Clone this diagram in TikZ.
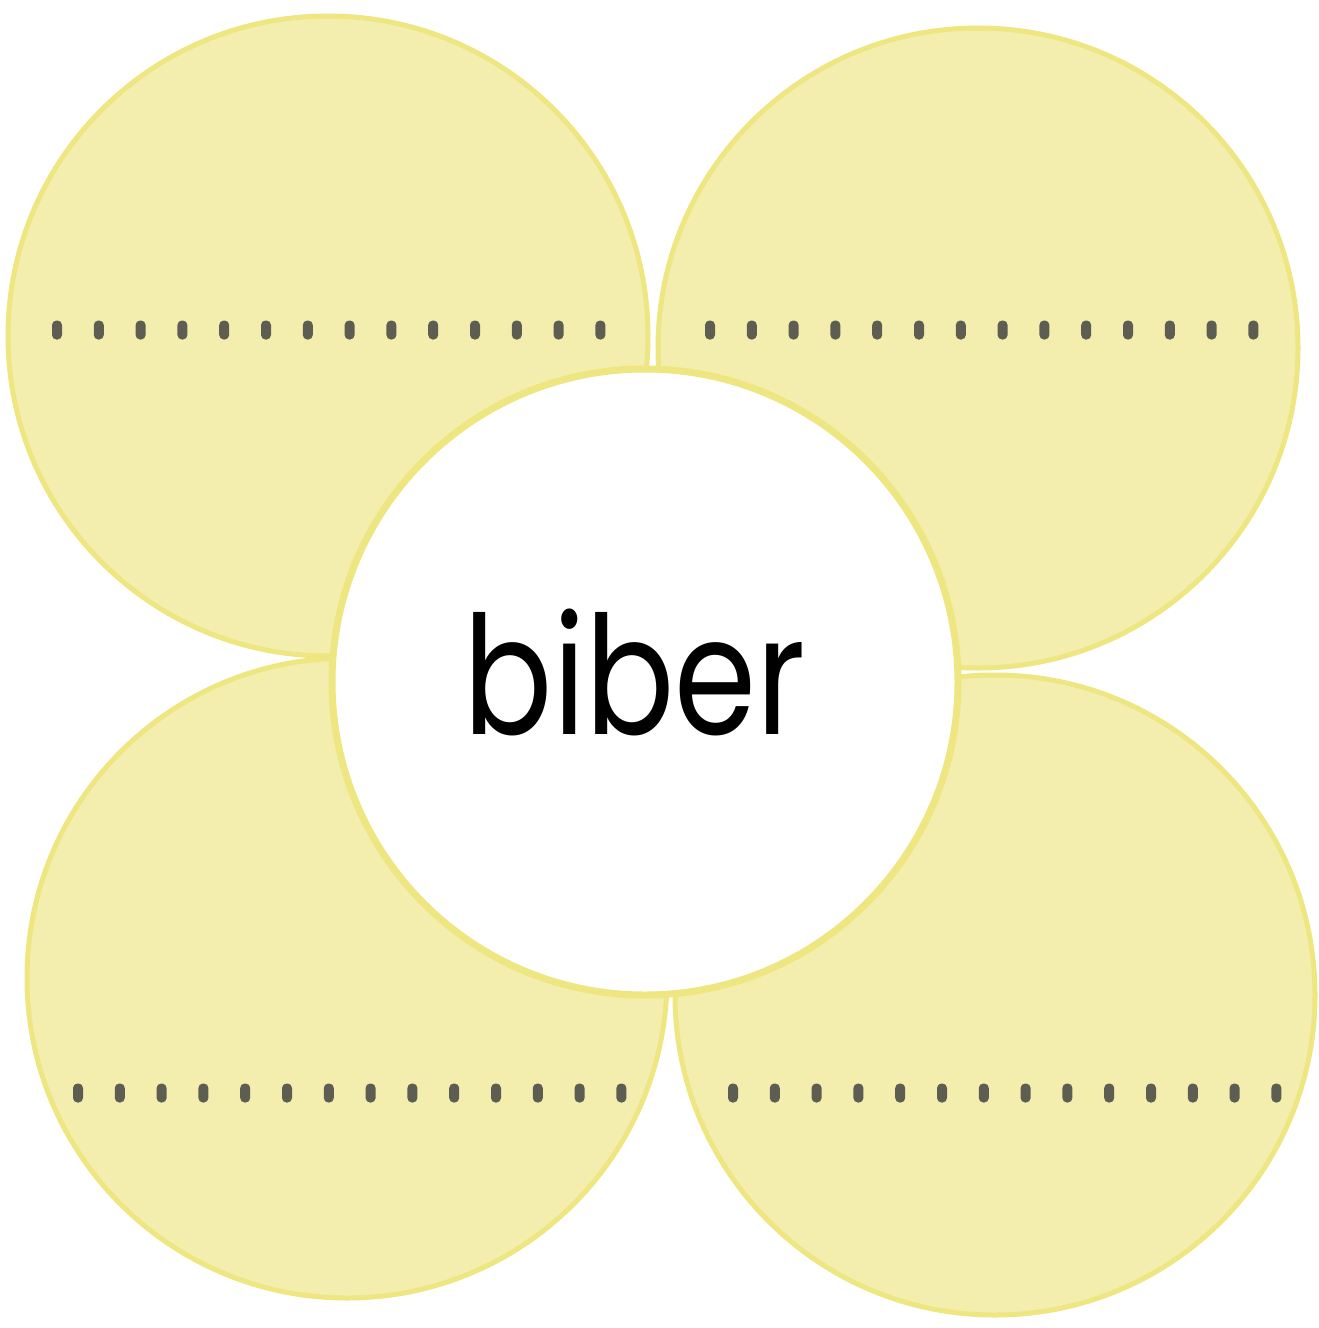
\documentclass[tikz,border=0pt]{standalone}
\usepackage{fontspec}
\setmainfont{Poppins}
\definecolor{petalfill}{HTML}{F4EEAE}
\definecolor{petaledge}{HTML}{EEE680}
\definecolor{dotcol}{HTML}{5E5D52}
\begin{document}
\begin{tikzpicture}[x=1pt,y=-1pt,
  petal/.style={circle,fill=petalfill,draw=petaledge,line width=5pt,inner sep=0pt,minimum size=#1},
  hub/.style={circle,fill=white,draw=petaledge,line width=7pt,inner sep=0pt,minimum size=#1},
  dotmark/.style={rounded corners=4.5pt,fill=dotcol,draw=none,minimum width=10pt,minimum height=19pt,inner sep=0pt,rectangle}]
\useasboundingbox[fill=white] (0,0) rectangle (1318,1328);
\node[petal=640pt] (tl) at (328,336) {};
\node[petal=640pt] (tr) at (978,348) {};
\node[petal=640pt] (bl) at (347,978) {};
\node[petal=640pt] (br) at (995,995) {};
\foreach \i in {0,...,13} {
  \node[dotmark] (dtl\i) at ({57+41.8*\i},330) {};
  \node[dotmark] (dtr\i) at ({710+41.8*\i},330) {};
  \node[dotmark] (dbl\i) at ({78+41.8*\i},1093) {};
  \node[dotmark] (dbr\i) at ({733+41.8*\i},1093) {};
}
\node[hub=626pt] (hub) at (645,682) {};
\node[anchor=base,font=\fontsize{165}{170}\selectfont,inner sep=0pt,xscale=0.8] (word) at (635,734) {biber};
\end{tikzpicture}
\end{document}
